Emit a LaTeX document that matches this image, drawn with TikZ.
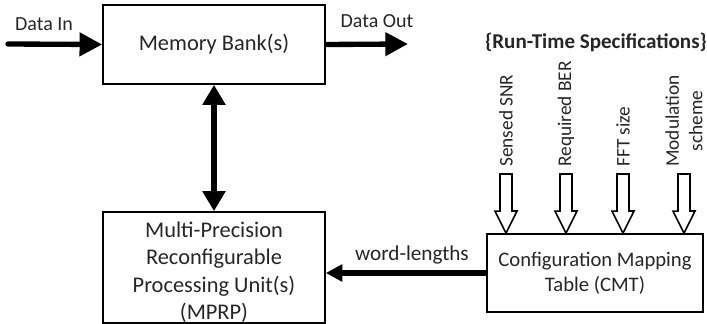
\documentclass[tikz,border=0pt]{standalone}
\usepackage{fontspec}
\setmainfont{Carlito}
\usetikzlibrary{arrows.meta}

\tikzset{
  box/.style={draw, line width=1.2pt, align=center, inner sep=0pt, text=black!85,
    font=\fontsize{16.8}{20.6}\selectfont},
  lbl/.style={inner sep=0pt, text=black!85, font=\fontsize{15}{18}\selectfont},
  spec/.style={rotate=90, anchor=west, align=center, inner sep=0pt, text=black!85,
    font=\fontsize{14.5}{17.5}\selectfont},
  fat/.style={line width=4pt, -{Triangle[length=17pt,width=17pt]}},
  hollow/.style={line width=1.2pt, fill=white, line join=miter}
}

\begin{document}
\begin{tikzpicture}[x=0.75pt, y=-0.75pt]
    \useasboundingbox (0,0) rectangle (707,324);

    % blocks
    \node [box, minimum width=166.5pt, minimum height=59.25pt] (mem) at (214,44.5) {Memory Bank(s)};
    \node [box, minimum width=166.5pt, minimum height=83.25pt] (mprp) at (214,267.5)
        {\rule{0pt}{19pt}Multi-Precision\\Reconfigurable\\Processing Unit(s)\\(MPRP)};
    \node [box, minimum width=162pt, minimum height=58.5pt, font=\fontsize{15.5}{19}\selectfont] (cmt) at (595,273)
        {Configuration Mapping\\Table (CMT)};

    % data path
    \node [lbl] (din) at (44,24) {Data In};
    \node [lbl] (dout) at (377,21) {Data Out};
    \coordinate (in) at (8,44);
    \coordinate (out) at (408,44);
    \draw [fat, line cap=round] (in) -- (mem.west);
    \draw [fat] (mem.east) -- (out);
    \draw [fat, {Triangle[length=15pt,width=16.5pt]}-{Triangle[length=15pt,width=16.5pt]}] (mem.south) -- (mprp.north);

    \node [lbl, font=\fontsize{15.9}{18}\selectfont] (wl) at (412,255) {word-lengths};
    \draw [fat, -{Triangle[length=12.5pt,width=12.5pt]}] (cmt.west) -- (cmt.west -| mprp.east);

    % run-time specifications
    \node [lbl, font=\bfseries\fontsize{15.8}{18}\selectfont] (rts) at (596,42) {\{Run-Time Specifications\}};
    \node [spec] (snr) at (506,167) {Sensed SNR};
    \node [spec] (ber) at (566,167) {Required BER};
    \node [spec] (fft) at (623,167) {FFT size};
    \node [spec] (mod) at (684,167) {Modulation\\scheme};

    \foreach \n in {snr,ber,fft,mod}
        \draw [hollow] (\n.west) ++(-6,7) -- ++(12,0) -- ++(0,37) -- ++(5,0)
            -- (\n.west |- cmt.north) -- ++(-11,-22) -- ++(5,0) -- cycle;
\end{tikzpicture}
\end{document}
